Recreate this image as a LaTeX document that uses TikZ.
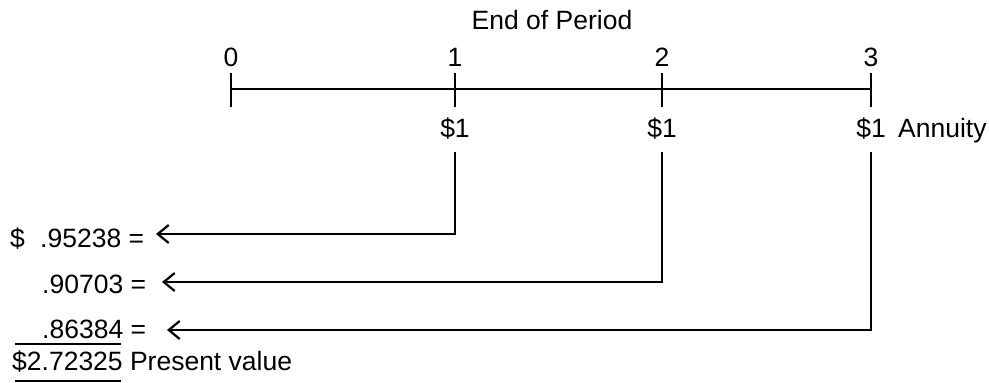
\documentclass[tikz,border=0pt]{standalone}
\usepackage{fontspec}
\setmainfont{Liberation Sans}
\usetikzlibrary{arrows.meta}
\begin{document}
\begin{tikzpicture}[x=1pt,y=-1pt,
  lbl/.style={inner sep=0pt, font=\fontsize{26.5}{30}\selectfont},
  ln/.style={line width=2.2pt},
  rule/.style={line width=1.5pt},
  arr/.style={line width=2.2pt, -{Straight Barb[length=11pt,width=18pt,line width=2.2pt]}}]
\useasboundingbox (0,0) rectangle (989,383);

% heading
\node[lbl, anchor=base] (head) at (552,29) {End of Period};

% time line with period ticks
\coordinate (p0) at (231,89);
\coordinate (p1) at (455,89);
\coordinate (p2) at (662,89);
\coordinate (p3) at (871,89);
\draw[ln] (p0) -- (p3);
\foreach \i in {0,1,2,3} {
  \draw[ln] ([yshift=16pt]p\i) -- ([yshift=-18pt]p\i);
  \node[lbl, anchor=base] (n\i) at ([yshift=23pt]p\i) {\i};
}

% annuity payments
\node[lbl, anchor=base] (d1) at (455,137) {\$1};
\node[lbl, anchor=base] (d2) at (662,137) {\$1};
\node[lbl, anchor=base] (d3) at (871,137) {\$1};
\node[lbl, anchor=base west] (ann) at (898,137) {Annuity};

% discounted values
\node[lbl, anchor=base west] (dol) at (10,247) {\$};
\node[lbl, anchor=base west] (v1) at (40,247) {.95238 =};
\node[lbl, anchor=base west] (v2) at (42,293) {.90703 =};
\node[lbl, anchor=base west] (v3) at (42,338) {.86384 =};
\node[lbl, anchor=base west] (tot) at (12,370) {\$2.72325 Present value};

% sum rules
\draw[rule] (15,344) -- (121,344);
\draw[rule] (15,381) -- (121,381);

% arrow ends
\coordinate (t1) at (156,234);
\coordinate (t2) at (162,282);
\coordinate (t3) at (167,330);

% discounting connectors
\draw[arr] ([yshift=-13pt]d1.south) |- (t1);
\draw[arr] ([yshift=-13pt]d2.south) |- (t2);
\draw[arr] ([yshift=-13pt]d3.south) |- (t3);
\end{tikzpicture}
\end{document}
